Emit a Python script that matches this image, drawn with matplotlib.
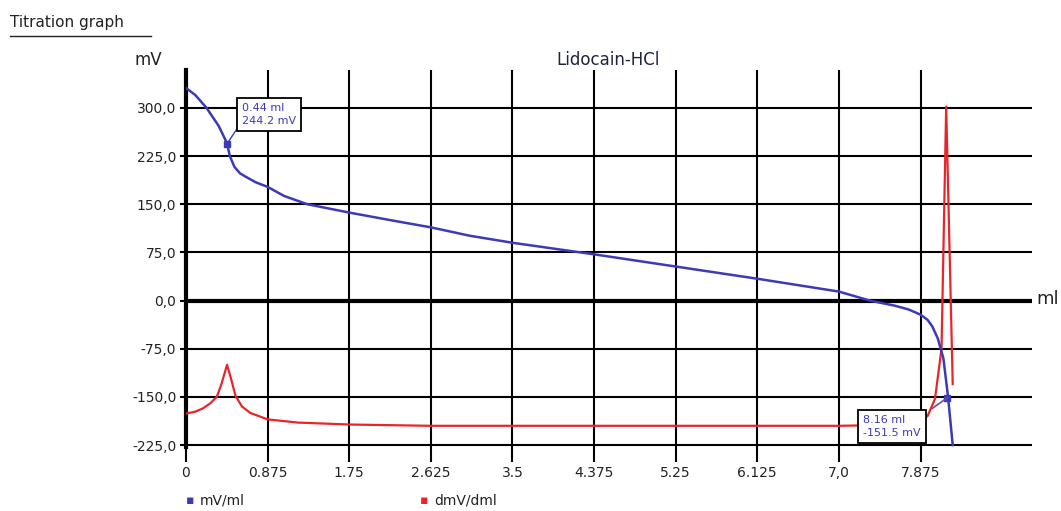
import matplotlib
matplotlib.use("Agg")
import matplotlib.pyplot as plt
from matplotlib.lines import Line2D

# potential curve (mV vs ml)
vol_mv = [0, 0.1, 0.22, 0.35, 0.44, 0.47, 0.52, 0.58, 0.65, 0.75, 0.875, 1.05, 1.3,
          1.75, 2.2, 2.625, 3.04, 3.5, 4.375, 5.25, 6.125, 7.0, 7.33, 7.6, 7.75,
          7.875, 7.95, 8.0, 8.06, 8.12, 8.17, 8.22]
mv = [331, 320, 300, 272, 245, 225, 208, 198, 192, 184, 177, 163, 150,
      137, 125, 114, 101, 90, 72, 53, 34, 14, 0, -8, -14,
      -22, -30, -40, -59, -90, -150, -225]

# first derivative
vol_d = [0, 0.1, 0.18, 0.26, 0.33, 0.38, 0.44, 0.48, 0.53, 0.6, 0.69, 0.875, 1.2,
         1.75, 2.625, 3.5, 5.0, 7.0, 7.8, 7.95, 8.03, 8.1, 8.15, 8.22]
dmv = [-176, -173, -168, -160, -150, -130, -100, -120, -148, -165, -175, -185, -190,
       -193, -195, -195, -195, -195, -193, -180, -153, -75, 302, -130]

xticks = [0, 0.875, 1.75, 2.625, 3.5, 4.375, 5.25, 6.125, 7.0, 7.875]
xlabels = ["0", "0.875", "1.75", "2.625", "3.5", "4.375", "5.25", "6.125", "7,0", "7.875"]
yticks = [-225, -150, -75, 0, 75, 150, 225, 300]
ylabels = ["-225,0", "-150,0", "-75,0", "0,0", "75,0", "150,0", "225,0", "300,0"]

ep1 = (0.44, 244.2)
ep2 = (8.16, -151.5)

blue = "#3b3bb8"
red = "#e8262a"
txt = "#222222"

W, H = 1061, 511
fig = plt.figure(figsize=(W / 100, H / 100), dpi=100)
ax = fig.add_axes([186 / W, 1 - 447 / H, 846 / W, 377 / H])
ax.set_xlim(0, 9.07)
ax.set_ylim(-228, 359)

for s in ["top", "right", "bottom"]:
    ax.spines[s].set_visible(False)
ax.spines["left"].set_linewidth(3)
ax.spines["left"].set_color("black")

ax.set_xticks(xticks)
ax.set_xticklabels(xlabels)
ax.set_yticks(yticks)
ax.set_yticklabels(ylabels)
ax.tick_params(axis="x", direction="out", length=11, width=1.5, pad=3,
               labelsize=10, labelcolor=txt)
ax.tick_params(axis="y", direction="out", length=4, width=1.5, pad=3,
               labelsize=10, labelcolor=txt)
ax.grid(True, color="black", linewidth=1.5)
ax.axhline(0, color="black", linewidth=3, zorder=2)

ax.plot(vol_mv, mv, color=blue, linewidth=1.8, zorder=4)
ax.plot(vol_d, dmv, color=red, linewidth=1.6, zorder=3)

# endpoint markers and boxes
ax.plot(*ep1, marker="s", color=blue, markersize=5, zorder=5)
ax.plot(*ep2, marker="s", color=blue, markersize=5, zorder=5)
ax.plot([ep1[0], 0.54], [ep1[1], 266], color=blue, linewidth=1, zorder=5)
ax.plot([ep2[0], 8.0], [ep2[1], -168], color="#7a3fb0", linewidth=1.2, zorder=5)

box = dict(boxstyle="square,pad=0.45", facecolor="white", edgecolor="black", linewidth=1.3)
ax.text(0.60, 290, "0.44 ml\n244.2 mV", color=blue, fontsize=8, va="center",
        ha="left", bbox=box, zorder=6, linespacing=1.35)
ax.text(7.26, -196, "8.16 ml\n-151.5 mV", color=blue, fontsize=8, va="center",
        ha="left", bbox=box, zorder=6, linespacing=1.35)

# labels around the plot
fig.text(10 / W, 1 - 22 / H, "Titration graph", fontsize=11, color=txt, va="center")
fig.add_artist(Line2D([10 / W, 151 / W], [1 - 36 / H, 1 - 36 / H], color=txt, linewidth=1))
fig.text(148 / W, 1 - 60 / H, "mV", fontsize=12, color=txt, ha="center", va="center")
fig.text(608 / W, 1 - 60 / H, "Lidocain-HCl", fontsize=12, color="#1c2540",
         ha="center", va="center")
fig.text(1036 / W, 1 - 299 / H, "ml", fontsize=13, color=txt, ha="left", va="center")

# legend
fig.text(186 / W, 1 - 500 / H, "\u25aa", fontsize=9, color=blue, va="center")
fig.text(200 / W, 1 - 500 / H, "mV/ml", fontsize=10, color=txt, va="center")
fig.text(420 / W, 1 - 500 / H, "\u25aa", fontsize=9, color=red, va="center")
fig.text(434 / W, 1 - 500 / H, "dmV/dml", fontsize=10, color=txt, va="center")

fig.savefig("out.png", dpi=100)
